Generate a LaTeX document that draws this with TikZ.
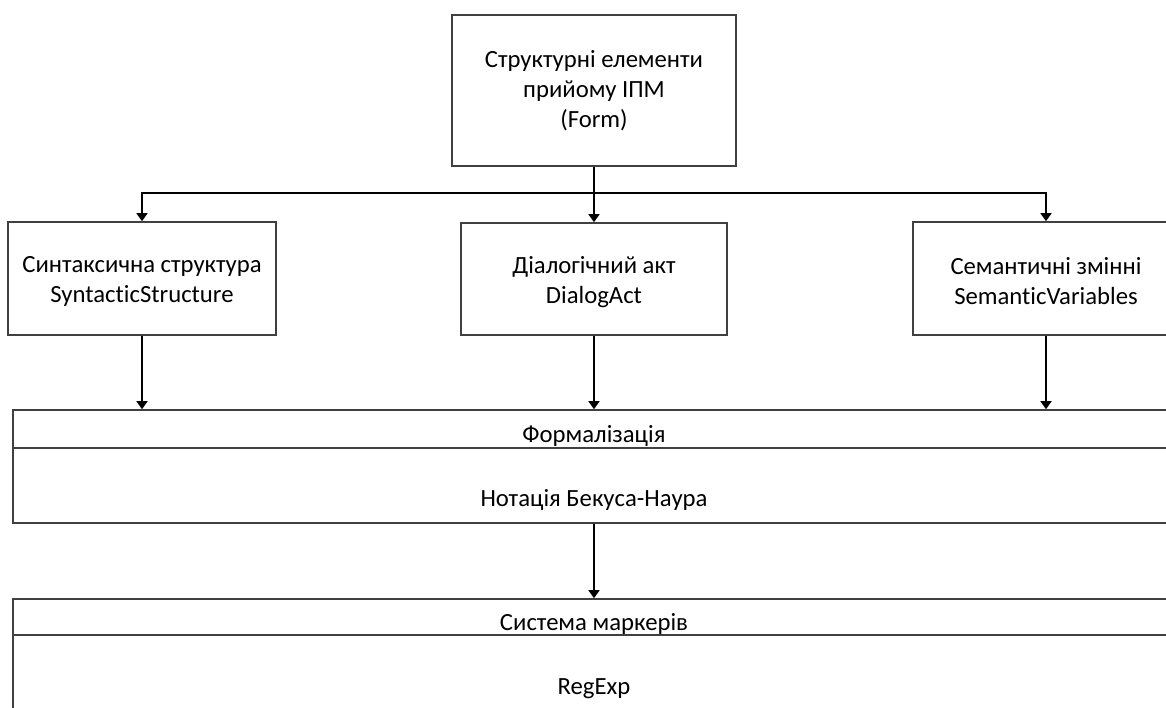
\documentclass[tikz,border=0pt]{standalone}
\usepackage{fontspec}
\setmainfont{Carlito}[Ligatures={NoCommon}]
\usetikzlibrary{arrows.meta}
\definecolor{ln}{RGB}{64,64,64}
\tikzset{
  box/.style={draw=ln, line width=1.6pt, rectangle, inner sep=0pt, align=center,
    font=\fontsize{24.7}{30}\selectfont},
  txt/.style={inner sep=0pt, align=center, font=\fontsize{24.7}{30}\selectfont},
  lbl/.style={inner sep=0pt, anchor=base, font=\fontsize{24.7}{30}\selectfont},
  conn/.style={draw=black, line width=1.5pt, -{Triangle[width=11pt,length=8pt]}}
}
\begin{document}
\begin{tikzpicture}[x=1pt,y=-1pt]
\useasboundingbox (0,0) rectangle (1166,707);
\begin{scope}
\clip (0,0) rectangle (1166,707);
\node[box, minimum width=284pt, minimum height=151pt] (top) at (594,90.5)
  {Структурні елементи\\прийому ІПМ\\(Form)};
\node[box, minimum width=268pt, minimum height=113pt] (syn) at (142,278.5) {};
\node[txt] (synt) at (142,281.5) {Синтаксична структура\\SyntacticStructure};
\node[box, minimum width=266pt, minimum height=112pt] (dia) at (594,279) {};
\node[txt] (diat) at (594,282) {Діалогічний акт\\DialogAct};
\node[box, minimum width=266pt, minimum height=113pt] (sem) at (1046,278.5) {};
\node[txt] (semt) at (1046,281.5) {Семантичні змінні\\SemanticVariables};
\node[box, minimum width=1162pt, minimum height=113pt] (form) at (594,466.5) {};
\coordinate (fdl) at (13,448);
\coordinate (fdr) at (1175,448);
\draw[ln, line width=1.6pt] (fdl) -- (fdr);
\node[lbl] (formh) at (594,442) {Формалізація};
\node[lbl] (formb) at (594,506) {Нотація Бекуса-Наура};
\node[box, minimum width=1162pt, minimum height=116pt] (mark) at (594,657) {};
\coordinate (mdl) at (13,635);
\coordinate (mdr) at (1175,635);
\draw[ln, line width=1.6pt] (mdl) -- (mdr);
\node[lbl] (markh) at (594,630) {Система маркерів};
\node[lbl] (markb) at (594,694) {RegExp};
\coordinate (split) at (594,193);
\draw[black, line width=1.5pt] (top.south) -- (split);
\draw[conn] (split) -| (syn.north);
\draw[conn] (split) -| (sem.north);
\draw[conn] (split) -- (dia.north);
\draw[conn] (syn.south) -- (syn.south |- form.north);
\draw[conn] (dia.south) -- (dia.south |- form.north);
\draw[conn] (sem.south) -- (sem.south |- form.north);
\draw[conn] (form.south) -- (mark.north);
\end{scope}
\end{tikzpicture}
\end{document}
